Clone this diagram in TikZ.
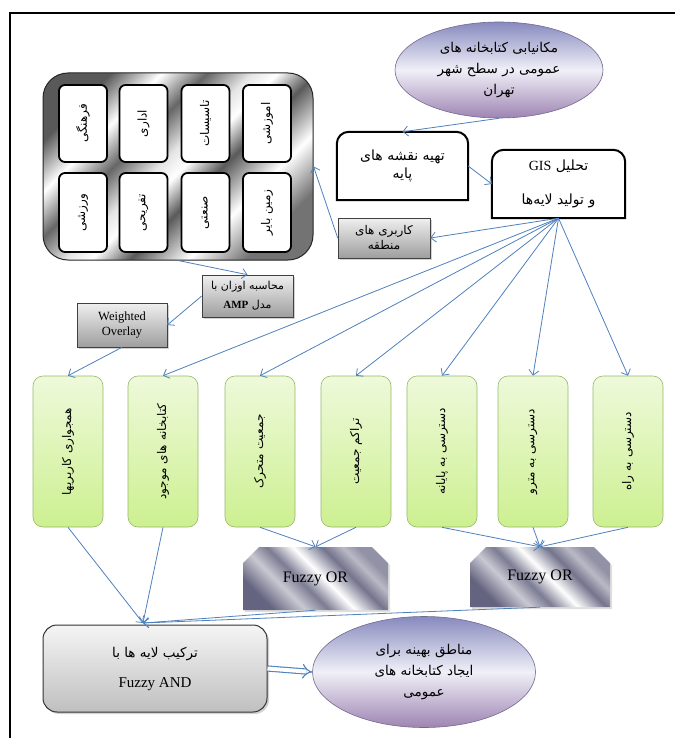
\documentclass[tikz,border=0pt]{standalone}
\usepackage{fontspec}
\setmainfont{Liberation Serif}
\newfontfamily\fa[Script=Arabic]{DejaVu Sans}
\TeXXeTstate=1
\usetikzlibrary{arrows.meta,shapes.misc,shapes.geometric,shadows}

\definecolor{linkblue}{RGB}{79,129,189}
\definecolor{layertop}{RGB}{238,249,218}
\definecolor{layerbot}{RGB}{205,240,145}
\definecolor{layeredge}{RGB}{150,185,105}
\definecolor{ovaltop}{RGB}{135,138,190}
\definecolor{ovalmid}{RGB}{240,240,248}
\definecolor{ovalbot}{RGB}{158,132,178}
\definecolor{ovaledge}{RGB}{115,105,145}
\definecolor{slate}{RGB}{100,100,128}

\pgfdeclarehorizontalshading{steel}{100bp}{color(0bp)=(black!65); color(25bp)=(black!65);
  color(33bp)=(white); color(40bp)=(black!60); color(47bp)=(black!10); color(51bp)=(white);
  color(57bp)=(black!65); color(66bp)=(white); color(75bp)=(black!55); color(100bp)=(black!55)}
\pgfdeclarehorizontalshading{bluesteel}{100bp}{color(0bp)=(slate); color(25bp)=(slate);
  color(36bp)=(slate!35); color(44bp)=(slate!85); color(53bp)=(white);
  color(63bp)=(slate!90); color(70bp)=(slate!45); color(75bp)=(slate!70); color(100bp)=(slate!70)}

\newcommand{\fatxt}[1]{{\fa\beginR #1\endR}}

\begin{document}
\begin{tikzpicture}[x=1pt,y=-1pt, >={Straight Barb[length=5pt,width=10pt]},
    link/.style={->, linkblue, line width=0.8pt},
    tile/.style={draw=black, line width=1.8pt, fill=white, rounded corners=6pt, minimum width=48pt, inner sep=0pt},
    tiletext/.style={rotate=90, font=\fontsize{12}{14}\selectfont, inner sep=0pt},
    layer/.style={draw=layeredge, line width=0.6pt, top color=layertop, bottom color=layerbot, rounded corners=10pt,
        minimum width=70pt, minimum height=151pt, inner sep=0pt},
    topbox/.style={align=center, inner sep=0pt, font=\fontsize{14}{18}\selectfont},
    topline/.style={line width=2pt, black},
    greybox/.style={draw=black!75, line width=0.6pt, top color=black!6, bottom color=black!38, align=center, inner sep=0pt,
        drop shadow={shadow xshift=2pt, shadow yshift=-2pt, opacity=.35}},
    oval/.style={ellipse, draw=ovaledge, line width=0.6pt, top color=ovaltop, bottom color=ovalbot, middle color=ovalmid,
        align=center, inner sep=0pt, font=\fontsize{13.5}{21}\selectfont},
    fuzzybox/.style={chamfered rectangle, chamfered rectangle corners={north west,north east},
        chamfered rectangle xsep=9pt, chamfered rectangle ysep=9pt, shading=bluesteel, shading angle=45,
        minimum width=140pt, minimum height=60pt, inner sep=0pt, font=\fontsize{16}{18}\selectfont,
        drop shadow={shadow xshift=2pt, shadow yshift=-2pt, opacity=.25}},
    bigarrow/.style={-{Implies}, linkblue, line width=1.1pt, double=white, double distance=4pt}]
    \fill[white] (0,0) rectangle (676,738);
    \useasboundingbox (0,0) rectangle (676,738);
    \draw[line width=2.5pt] (675,13) -- (10,13) -- (10,738);

    \node[draw=black!85, line width=1pt, shading=steel, shading angle=-45, rounded corners=25pt,
        minimum width=270pt, minimum height=187pt] (bigbox) at (178,166.5) {};
    \foreach \x/\y/\h/\txt [count=\i] in {83/123.5/77/فرهنگی, 143.5/123.5/77/اداری, 205.5/123.5/77/تاسیسات, 267/123.5/77/اموزشی,
        83/212.5/79/ورزشی, 143.5/212.5/79/تفریحی, 205.5/212.5/79/صنعتی, 267/212.5/79/زمین بایر}
    {
        \node[tile, minimum height=\h pt] (tile\i) at (\x,\y) {};
        \node[tiletext] (tile\i-t) at (tile\i) {\fatxt{\txt}};
    }

    \node[oval, minimum width=208pt, minimum height=96pt] (goal) at (499,70)
        {\fatxt{مکانیابی کتابخانه های}\\\fatxt{عمومی در سطح شهر}\\\fatxt{تهران}};

    \node[topbox, minimum width=131pt, minimum height=68pt] (tahie) at (402.5,166)
        {\fatxt{تهیه نقشه های}\\\fatxt{پایه}};
    \draw[topline] (tahie.south west) [rounded corners=12pt] -- (tahie.north west) -- (tahie.north east)
        [sharp corners] -- (tahie.south east) -- cycle;
    \node[topbox, minimum width=133pt, minimum height=68pt] (gis) at (558.5,184)
        {\fatxt{تحلیل \beginL\textrm{GIS}\endL{}}\\[16pt]\fatxt{و تولید لایه‌ها}};
    \draw[topline] (gis.south west) [rounded corners=12pt] -- (gis.north west) -- (gis.north east)
        [sharp corners] -- (gis.south east) -- cycle;

    \node[greybox, minimum width=92pt, minimum height=40pt, font=\fontsize{12}{15}\selectfont] (zone) at (384,238)
        {\fatxt{کاربری های}\\\fatxt{منطقه}};
    \node[greybox, minimum width=91pt, minimum height=42pt, font=\fontsize{11}{19}\selectfont] (amp) at (247.5,296)
        {\fatxt{محاسبه اوزان با}\\\fatxt{مدل \beginL\textbf{\rmfamily AMP}\endL{}}};
    \node[greybox, minimum width=90pt, minimum height=44pt, font=\fontsize{12.5}{15}\selectfont] (overlay) at (122,325)
        {Weighted\\Overlay};

    \foreach \x/\cid/\txt in {68/c1/همجواری کاربریها, 163/c2/کتابخانه های موجود, 260/c3/جمعیت متحرک,
        356/c4/تراکم جمعیت, 442/c5/دسترسی به پایانه, 533/c6/دسترسی به مترو, 628/c7/دسترسی به راه}
    {
        \node[layer] (\cid) at (\x,451.5) {};
        \node[tiletext] (\cid-t) at (\cid) {\fatxt{\txt}};
    }

    \node[fuzzybox, minimum width=145pt, minimum height=63pt] (or1) at (315.5,578.5) {Fuzzy OR};
    \node[fuzzybox] (or2) at (540,577) {Fuzzy OR};

    \node[greybox, draw=black!80, line width=1pt, rounded corners=14pt, top color=black!4, bottom color=black!25,
        minimum width=224pt, minimum height=87pt, font=\fontsize{15}{18}\selectfont] (fand) at (155,668.5)
        {{\fontsize{13.5}{16}\selectfont\fatxt{ترکیب لایه ها با}}\\[12pt]Fuzzy AND};
    \node[oval, minimum width=223pt, minimum height=111pt] (result) at (424,672)
        {\fatxt{مناطق بهینه برای}\\\fatxt{ایجاد کتابخانه های}\\\fatxt{عمومی}};

    \coordinate (hub) at (gis.south);
    \coordinate (meet) at (143,623);

    \draw[link] (goal.south) -- (tahie.north);
    \draw[link] (tahie.east) -- (gis.west);
    \draw[link] (hub) -- (zone.east);
    \draw[link] (zone.west) -- (bigbox.east);
    \draw[link] (bigbox.south) -- (amp.north);
    \draw[link] (amp.west) -- (overlay.east);
    \draw[link] (overlay.south) -- (c1.north);
    \foreach \cid in {c2,c3,c4,c5,c6,c7}
        \draw[link] (hub) -- (\cid.north);
    \draw[link] (c3.south) -- (or1.north);
    \draw[link] (c4.south) -- (or1.north);
    \foreach \cid in {c5,c6,c7}
        \draw[link] (\cid.south) -- (or2.north);
    \draw[link] (c1.south) -- (meet);
    \draw[link] (c2.south) -- (meet);
    \draw[link] (or1.south) -- (meet);
    \draw[link] (or2.south) -- (meet);
    \draw[bigarrow] (fand.east) -- (result.west);
\end{tikzpicture}
\end{document}
